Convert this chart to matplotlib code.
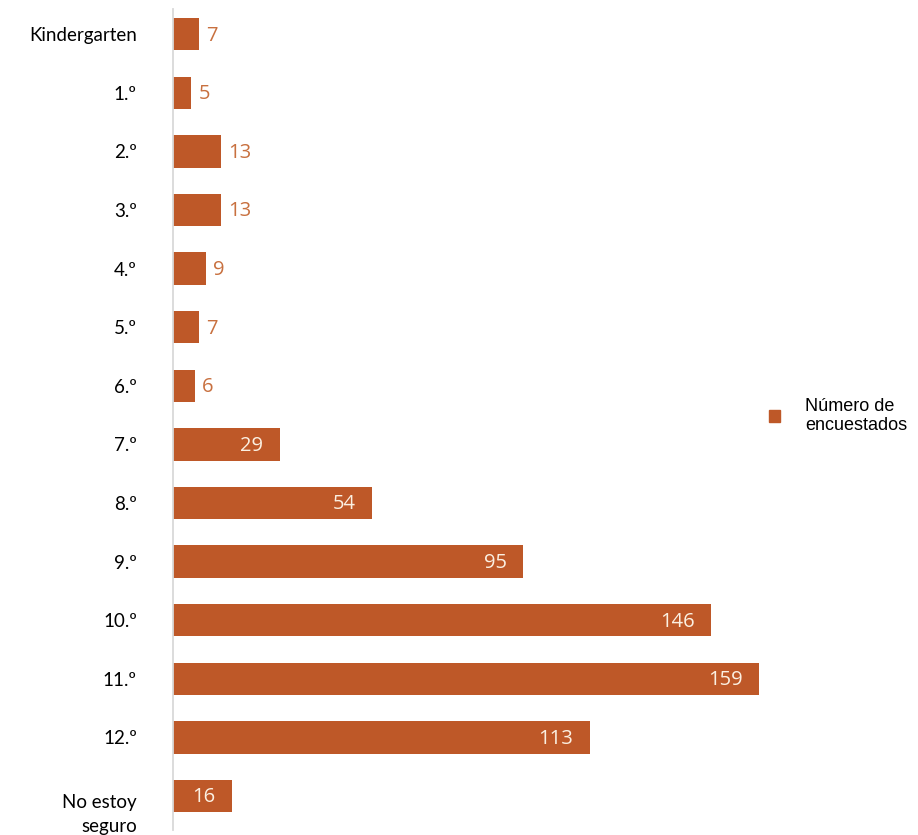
import matplotlib
matplotlib.use('Agg')
import matplotlib.pyplot as plt
import matplotlib.transforms as mtransforms
from matplotlib.patches import Patch

# grades and how many people answered for each
GRADES = ["Kindergarten", "1.º", "2.º", "3.º", "4.º", "5.º", "6.º",
          "7.º", "8.º", "9.º", "10.º", "11.º", "12.º", "No estoy\nseguro"]
COUNTS = [7, 5, 13, 13, 9, 7, 6, 29, 54, 95, 146, 159, 113, 16]
SERIES_NAME = "Número de\nencuestados"

BAR_COLOR = "#BE5828"
OUT_TEXT = "#C8703F"
IN_TEXT = "#FBF0E2"
INSIDE_MIN = 15  # values at or above this get the label inside the bar

fig = plt.figure(figsize=(9.18, 8.35), dpi=100)
ax = fig.add_axes([173 / 918, 5 / 835, 627 / 918, 821 / 835])

ypos = list(range(len(GRADES)))
bars = ax.barh(ypos, COUNTS, height=0.55, color=BAR_COLOR, label=SERIES_NAME)

ax.set_xlim(0, 170)
ax.set_ylim(len(GRADES) - 1 + 0.58, -0.43)

for sp in ["top", "right", "bottom"]:
    ax.spines[sp].set_visible(False)
ax.spines["left"].set_color("#D9D9D9")
ax.spines["left"].set_linewidth(1.3)
ax.set_xticks([])
ax.set_yticks(ypos)
ax.set_yticklabels(GRADES, fontsize=13.5, family=["Lato", "DejaVu Sans"])
ax.tick_params(axis="y", length=0, pad=26)

# the last label sits a bit lower in the original, with wider line gap
last = ax.get_yticklabels()[-1]
last.set_linespacing(1.55)
last.set_transform(last.get_transform() +
                   mtransforms.ScaledTranslation(0, -13 / 100, fig.dpi_scale_trans))

for b, v in zip(bars, COUNTS):
    yc = b.get_y() + b.get_height() / 2
    if v >= INSIDE_MIN:
        ax.annotate(str(v), (v, yc), xytext=(-12, -1), textcoords="offset points",
                    ha="right", va="center", color=IN_TEXT, fontsize=14.5,
                    family="Open Sans")
    else:
        ax.annotate(str(v), (v, yc), xytext=(5, -1), textcoords="offset points",
                    ha="left", va="center", color=OUT_TEXT, fontsize=14.5,
                    family="Open Sans")

handle = Patch(color=BAR_COLOR)
fig.legend([handle], [SERIES_NAME], loc="center left",
           bbox_to_anchor=(753 / 918, 1 - 416 / 835), frameon=False,
           prop={"family": "Liberation Sans", "size": 13},
           handlelength=0.6, handleheight=0.6, handletextpad=1.4)

fig.savefig("out.png", dpi=100)
